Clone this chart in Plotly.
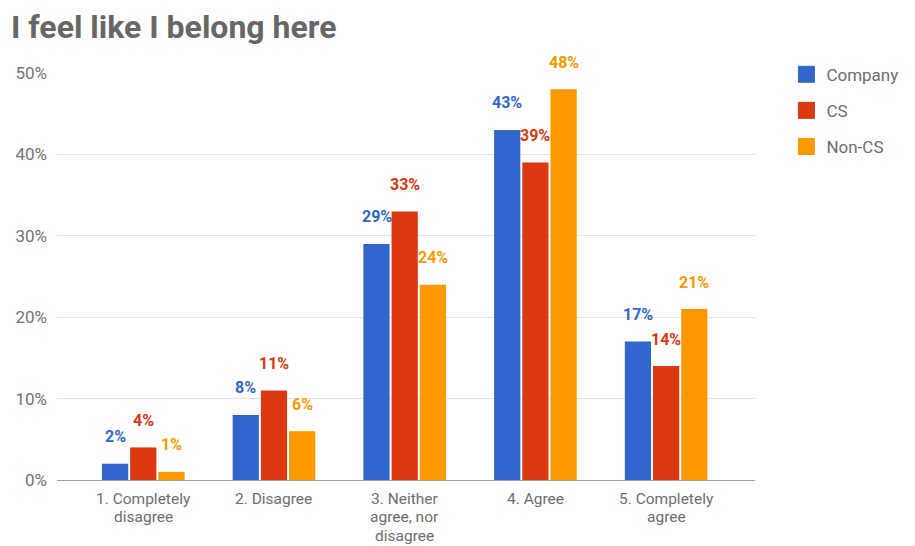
import plotly.graph_objects as go

categories = ["1. Completely<br>disagree", "2. Disagree", "3. Neither<br>agree, nor<br>disagree", "4. Agree", "5. Completely<br>agree"]
series_names = ["Company", "CS", "Non-CS"]
company = [2, 8, 29, 43, 17]
cs = [4, 11, 33, 39, 14]
non_cs = [1, 6, 24, 48, 21]
colors = ["#3366cc", "#dc3912", "#ff9900"]
y_ticks = [0, 10, 20, 30, 40, 50]

series = [company, cs, non_cs]
bargap = 0.353
bargroupgap = 0.07
FONT = "Roboto"
GREY = "#6e6e6e"

fig = go.Figure()
xs = list(range(len(categories)))
for i, (name, vals) in enumerate(zip(series_names, series)):
    fig.add_trace(go.Bar(
        x=xs, y=vals, name=name, marker_color=colors[i],
        marker_line_width=0, showlegend=False, hoverinfo="skip",
    ))
# legend entries (larger square swatches)
for i, name in enumerate(series_names):
    fig.add_trace(go.Scatter(
        x=[None], y=[None], mode="markers", name=name, legendgroup=name,
        marker=dict(symbol="square", size=16, color=colors[i],
                    line=dict(width=1, color=colors[i])),
    ))

# value labels above bars, positioned from grouped-bar geometry
slot = (1 - bargap) / len(series)
for i, vals in enumerate(series):
    off = (i - (len(series) - 1) / 2) * slot
    for j, v in enumerate(vals):
        fig.add_annotation(
            x=j + off, y=v, text=f"<b>{v}%</b>", showarrow=False,
            yanchor="middle", yshift=27,
            font=dict(family=FONT, size=16, color=colors[i]),
        )

# category labels (tight line spacing like the original)
for j, cat in enumerate(categories):
    for k, line in enumerate(cat.split("<br>")):
        fig.add_annotation(
            x=j, y=0, text=line, showarrow=False,
            yanchor="middle", yshift=-19 - 18.3 * k,
            font=dict(family=FONT, size=15.5, color=GREY),
        )

fig.update_layout(
    width=915, height=546,
    margin=dict(l=57, r=147, t=73, b=66),
    paper_bgcolor="white", plot_bgcolor="white",
    barmode="group", bargap=bargap, bargroupgap=bargroupgap,
    font=dict(family=FONT, size=17, color=GREY),
    title=dict(text="<b>I feel like I belong here</b>", x=0.012, xanchor="left",
               y=0.951, yanchor="middle",
               font=dict(family=FONT, size=32, color="#676767")),
    legend=dict(x=1.045, y=1.04, xanchor="left", yanchor="top",
                tracegroupgap=11, traceorder="grouped",
                font=dict(family=FONT, size=17, color=GREY)),
    showlegend=True,
)
fig.update_xaxes(
    tickmode="array", tickvals=xs, ticktext=[""] * len(xs),
    range=[-0.66, 4.68], showgrid=False, zeroline=False,
    showline=True, linecolor="#9e9e9e", linewidth=1, ticks="",
)
fig.update_yaxes(
    range=[0, 50], tickvals=y_ticks, ticktext=[f"{t}%" for t in y_ticks],
    showgrid=True, gridcolor="#e3e3e3", gridwidth=1, zeroline=False,
    showline=False, ticks="", ticklabelstandoff=9,
    tickfont=dict(family=FONT, size=17, color="#737373"),
)

fig.write_html("out.html")
